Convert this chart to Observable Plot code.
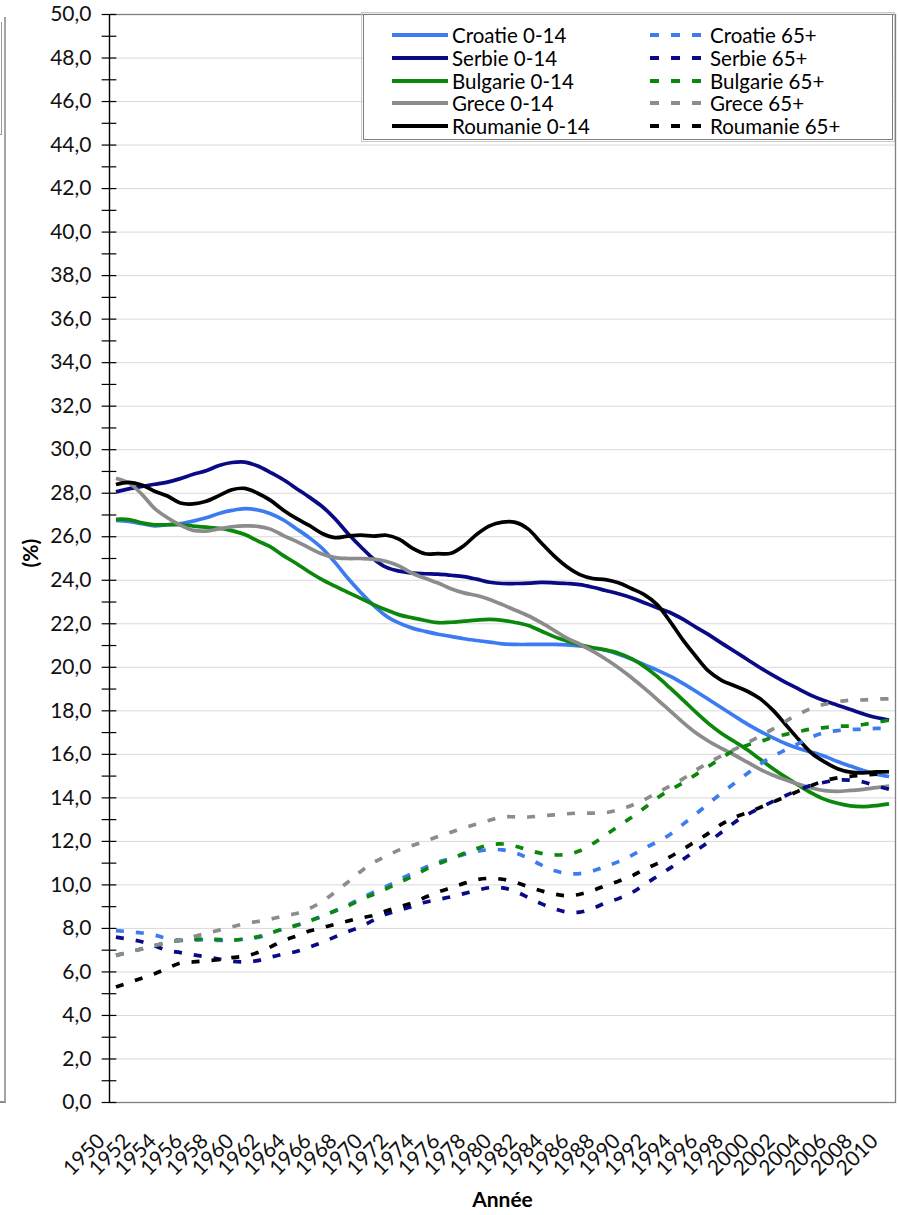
<!DOCTYPE html>
<html><head><meta charset="utf-8">
<script src="https://cdn.jsdelivr.net/npm/d3@7"></script>
<script src="https://cdn.jsdelivr.net/npm/@observablehq/plot@0.6"></script>
<style>
body{margin:0;background:#fff;font-family:Lato,"Open Sans",sans-serif;}
#wrap{position:relative;width:899px;height:1215px;overflow:hidden;background:#fff;}
#legend{position:absolute;left:363px;top:14px;width:530px;height:126px;border:1px solid #7f7f7f;outline:1px solid #c8c8c8;outline-offset:1px;background:#fff;box-sizing:border-box;}
.li{position:absolute;height:22px;display:flex;align-items:center;font-size:20.5px;color:#000;white-space:nowrap;}
.li svg{display:block;margin-right:4px;}
.edge1{position:absolute;left:0;top:17px;width:4px;height:1084px;border-right:2px solid #a6a6a6;border-bottom:2px solid #8a8a8a;}
.edge2{position:absolute;left:0;top:22px;width:1px;height:112px;border-right:1px solid #9a9a9a;border-bottom:1px solid #9a9a9a;}
</style></head>
<body><div id="wrap"><div class="edge1"></div><div class="edge2"></div></div>
<script>
// ---- data ----
const firstYear = 1950, lastYear = 2010;
const years = d3.range(firstYear, lastYear + 1);
const xTickYears = [1950,1952,1954,1956,1958,1960,1962,1964,1966,1968,1970,1972,1974,1976,1978,1980,1982,1984,1986,1988,1990,1992,1994,1996,1998,2000,2002,2004,2006,2008,2010];
const yTickValues = [0,2,4,6,8,10,12,14,16,18,20,22,24,26,28,30,32,34,36,38,40,42,44,46,48,50];
const yMinorTicks = d3.range(0, 51, 1);

const seriesNames = ["Croatie 0-14","Serbie 0-14","Bulgarie 0-14","Grece 0-14","Roumanie 0-14",
                     "Croatie 65+","Serbie 65+","Bulgarie 65+","Grece 65+","Roumanie 65+"];
const seriesColors = ["#3c7cf0","#0a0a85","#0b870b","#8c8c8c","#000000",
                      "#3c7cf0","#0a0a85","#0b870b","#8c8c8c","#000000"];

const croatie014 = [26.75,26.7,26.6,26.5,26.55,26.6,26.72,26.87,27.07,27.21,27.29,27.23,27.06,26.77,26.37,25.96,25.47,24.82,24.09,23.44,22.85,22.35,22.03,21.8,21.65,21.52,21.42,21.31,21.23,21.16,21.08,21.05,21.05,21.05,21.05,21.03,20.98,20.9,20.78,20.6,20.38,20.12,19.87,19.59,19.26,18.9,18.52,18.14,17.76,17.39,17.06,16.76,16.49,16.27,16.1,15.91,15.67,15.46,15.26,15.09,14.98];
const serbie014 = [28.06,28.2,28.31,28.41,28.51,28.67,28.87,29.03,29.27,29.41,29.43,29.25,28.95,28.62,28.22,27.82,27.39,26.83,26.15,25.54,24.98,24.59,24.42,24.33,24.3,24.28,24.23,24.17,24.05,23.91,23.85,23.85,23.87,23.9,23.88,23.85,23.8,23.68,23.53,23.38,23.2,22.97,22.74,22.52,22.21,21.85,21.5,21.11,20.74,20.36,19.98,19.63,19.3,19.0,18.7,18.46,18.26,18.06,17.86,17.69,17.58];
const bulgarie014 = [26.8,26.79,26.64,26.55,26.55,26.55,26.49,26.44,26.39,26.28,26.1,25.81,25.53,25.13,24.77,24.38,24.03,23.73,23.44,23.17,22.88,22.63,22.41,22.27,22.15,22.05,22.07,22.12,22.17,22.2,22.16,22.06,21.92,21.67,21.41,21.21,21.03,20.9,20.8,20.65,20.4,20.04,19.58,19.05,18.5,17.94,17.41,16.96,16.59,16.21,15.77,15.34,14.94,14.57,14.22,13.93,13.75,13.63,13.6,13.64,13.72];
const grece014 = [28.69,28.47,27.96,27.3,26.87,26.53,26.29,26.26,26.36,26.46,26.5,26.48,26.35,26.05,25.79,25.49,25.21,25.04,25.0,25.0,24.97,24.86,24.65,24.32,24.09,23.87,23.61,23.42,23.3,23.12,22.88,22.62,22.37,22.05,21.7,21.34,21.06,20.74,20.38,19.98,19.53,19.04,18.53,18.0,17.47,16.99,16.6,16.27,15.97,15.64,15.31,15.04,14.82,14.62,14.45,14.33,14.3,14.34,14.39,14.47,14.54];
const roumanie014 = [28.4,28.5,28.38,28.09,27.87,27.55,27.51,27.63,27.89,28.16,28.22,28.0,27.67,27.22,26.84,26.52,26.15,25.96,26.03,26.07,26.03,26.07,25.88,25.48,25.22,25.22,25.24,25.59,26.11,26.5,26.67,26.66,26.35,25.72,25.12,24.62,24.26,24.08,24.03,23.88,23.62,23.34,22.88,22.11,21.26,20.51,19.82,19.4,19.15,18.9,18.55,18.02,17.35,16.67,16.05,15.65,15.34,15.18,15.15,15.19,15.2];

const croatie65 = [7.9,7.85,7.79,7.69,7.54,7.45,7.46,7.49,7.45,7.46,7.51,7.58,7.79,7.98,8.14,8.34,8.56,8.81,9.08,9.38,9.67,9.93,10.24,10.53,10.8,11.05,11.22,11.4,11.54,11.62,11.61,11.47,11.22,10.92,10.66,10.53,10.52,10.64,10.85,11.07,11.35,11.68,11.98,12.32,12.78,13.25,13.74,14.22,14.67,15.12,15.55,15.92,16.21,16.5,16.8,17.0,17.09,17.14,17.15,17.19,17.2];
const serbie65 = [7.6,7.5,7.39,7.19,6.99,6.89,6.79,6.69,6.59,6.49,6.46,6.52,6.68,6.82,6.94,7.14,7.36,7.61,7.85,8.08,8.38,8.66,8.84,9.01,9.2,9.33,9.45,9.6,9.75,9.87,9.86,9.7,9.42,9.14,8.91,8.75,8.75,8.92,9.17,9.37,9.63,10.01,10.39,10.77,11.17,11.57,11.98,12.42,12.87,13.23,13.54,13.84,14.11,14.37,14.59,14.72,14.82,14.81,14.73,14.55,14.39];
const bulgarie65 = [6.76,6.91,7.06,7.21,7.36,7.45,7.5,7.5,7.49,7.46,7.52,7.62,7.79,7.98,8.14,8.34,8.56,8.8,9.03,9.32,9.57,9.83,10.12,10.39,10.7,10.97,11.19,11.44,11.67,11.84,11.88,11.78,11.6,11.45,11.38,11.4,11.57,11.89,12.29,12.7,13.1,13.53,13.99,14.36,14.69,15.07,15.45,15.84,16.18,16.42,16.59,16.78,16.92,17.05,17.17,17.23,17.29,17.3,17.37,17.47,17.57];
const grece65 = [6.76,6.91,7.06,7.21,7.36,7.46,7.62,7.77,7.92,8.07,8.22,8.32,8.43,8.57,8.69,8.91,9.24,9.66,10.13,10.62,11.03,11.33,11.61,11.81,12.01,12.22,12.42,12.62,12.8,12.97,13.12,13.13,13.12,13.17,13.22,13.27,13.3,13.3,13.32,13.45,13.65,13.91,14.24,14.54,14.87,15.27,15.62,15.93,16.23,16.53,16.84,17.17,17.53,17.85,18.12,18.3,18.42,18.49,18.5,18.54,18.55];
const roumanie65 = [5.31,5.51,5.71,5.92,6.17,6.41,6.46,6.51,6.56,6.66,6.72,6.89,7.15,7.44,7.65,7.88,8.03,8.19,8.34,8.48,8.6,8.81,8.99,9.18,9.43,9.67,9.87,10.07,10.24,10.3,10.26,10.12,9.91,9.73,9.58,9.5,9.57,9.74,9.97,10.17,10.4,10.71,10.98,11.29,11.64,12.0,12.38,12.79,13.1,13.32,13.56,13.81,14.06,14.32,14.57,14.79,14.92,14.99,15.04,15.09,15.1];

const seriesValues = [croatie014, serbie014, bulgarie014, grece014, roumanie014,
                      croatie65, serbie65, bulgarie65, grece65, roumanie65];

// ---- build table ----
const rows = [];
seriesNames.forEach((name, i) => {
  seriesValues[i].forEach((v, j) => rows.push({series: name, year: years[j], value: v}));
});

const xDomain = [firstYear - 0.5, lastYear + 0.5];
const fmt = d => d.toFixed(1).replace(".", ",");

const lineMarks = seriesNames.map((name, i) => Plot.line(rows.filter(r => r.series === name), {
  x: "year", y: "value", stroke: seriesColors[i], strokeWidth: 3.7,
  strokeDasharray: name.endsWith("65+") ? "8,12" : null,
  curve: "catmull-rom", strokeLinecap: "butt"
}));

const chart = Plot.plot({
  width: 899, height: 1215,
  marginLeft: 109, marginRight: 4, marginTop: 14, marginBottom: 113,
  x: {domain: xDomain, axis: null},
  y: {domain: [0, 50], axis: null},
  style: {fontFamily: "Lato, 'Open Sans', sans-serif", fontSize: "21px", color: "#000", background: "transparent", overflow: "visible"},
  marks: [
    Plot.ruleY(yTickValues.filter(d => d > 0 && d < 50), {stroke: "#d9d9d9", strokeWidth: 1}),
    Plot.frame({stroke: "#808080", strokeWidth: 1.3}),
    ...lineMarks,
    Plot.ruleX([xDomain[0]], {stroke: "#000", strokeWidth: 1.3}),
    Plot.ruleY(yMinorTicks, {x1: xDomain[0] - 0.57, x2: xDomain[0] + 0.57, stroke: "#000", strokeWidth: 1.2}),
    Plot.text(yTickValues, {y: d => d, text: fmt, frameAnchor: "left", dx: -18, textAnchor: "end", fontSize: 21, fill: "#111"}),
    Plot.text(xTickYears, {x: d => d, text: d => String(d), frameAnchor: "bottom", dx: -14.5, dy: 35, rotate: -45, textAnchor: "end", lineAnchor: "middle", fontSize: 21, fill: "#111"}),
    Plot.text(["(%)"], {frameAnchor: "left", dx: -78, dy: 9, rotate: -90, fontWeight: "bold", fontSize: 21, fill: "#000"}),
    Plot.text(["Année"], {frameAnchor: "bottom", dy: 104, fontWeight: "bold", fontSize: 21, fill: "#000"})
  ]
});
chart.style.position = "absolute";
chart.style.left = "0px";
chart.style.top = "0px";
document.getElementById("wrap").appendChild(chart);

// ---- legend ----
const legend = document.createElement("div");
legend.id = "legend";
const ns = "http://www.w3.org/2000/svg";
seriesNames.forEach((name, i) => {
  const col = name.endsWith("65+") ? 1 : 0;
  const row = i % 5;
  const item = document.createElement("div");
  item.className = "li";
  item.style.left = (col ? 286 : 28) + "px";
  item.style.top = (9 + row * 22.8) + "px";
  const svg = document.createElementNS(ns, "svg");
  svg.setAttribute("width", 56); svg.setAttribute("height", 22);
  const ln = document.createElementNS(ns, "line");
  ln.setAttribute("x1", 0); ln.setAttribute("x2", 56);
  ln.setAttribute("y1", 11); ln.setAttribute("y2", 11);
  ln.setAttribute("stroke", seriesColors[i]);
  ln.setAttribute("stroke-width", 4);
  if (col) ln.setAttribute("stroke-dasharray", "9,12");
  svg.appendChild(ln);
  item.appendChild(svg);
  const t = document.createElement("span");
  t.textContent = name;
  item.appendChild(t);
  legend.appendChild(item);
});
document.getElementById("wrap").appendChild(legend);
</script>
</body></html>
